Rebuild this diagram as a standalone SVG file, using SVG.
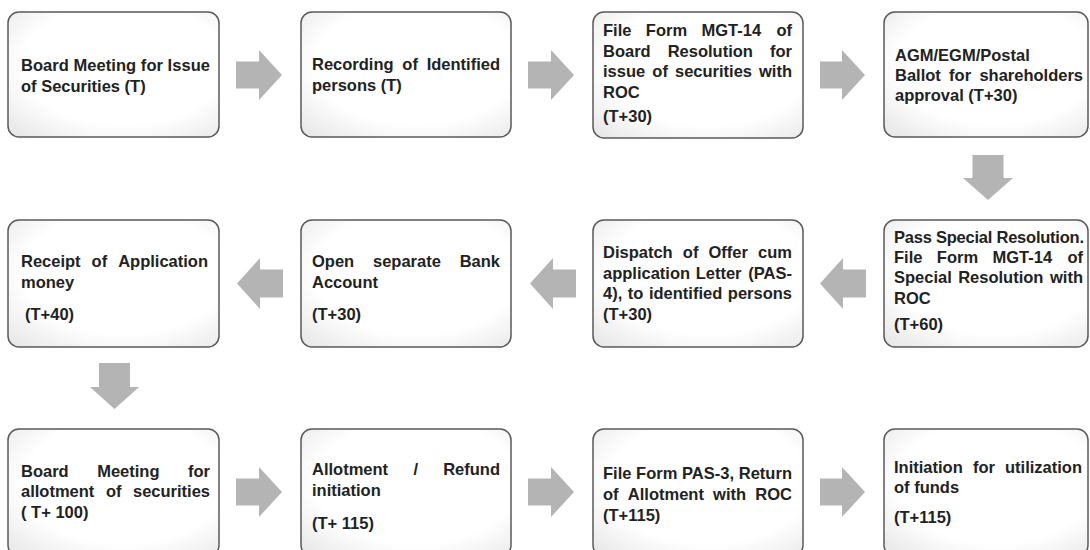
<svg xmlns="http://www.w3.org/2000/svg" width="1090" height="550" viewBox="0 0 1090 550">
<defs>
<radialGradient id="bg" cx="0.55" cy="0.42" r="0.78">
<stop offset="0.62" stop-color="#ffffff"/>
<stop offset="1" stop-color="#e6e6e6"/>
</radialGradient>
</defs>
<style>
.box{fill:url(#bg);stroke:#5a5a5a;stroke-width:1.5}
text{font-family:"Liberation Sans",Arial,sans-serif;font-weight:700;font-size:16.5px;fill:#222}
.r{text-anchor:end}
.arr{fill:#b4b4b4}
</style>
<rect width="1090" height="550" fill="#ffffff"/>
<g id="connectors">
<path class="arr" d="M236,61.5H259V50L282,75L259,100V88.5H236Z"/>
<path class="arr" d="M528,61.5H551V50L574,75L551,100V88.5H528Z"/>
<path class="arr" d="M820,61.5H842V50L865,75L842,100V88.5H820Z"/>
<path class="arr" d="M972.5,155H1003.5V178H1013L988,200L963,178H972.5Z"/>
<path class="arr" d="M866,269.5H843V258L820,283.5L843,309V297.5H866Z"/>
<path class="arr" d="M576,269.5H553V258L530,283.5L553,309V297.5H576Z"/>
<path class="arr" d="M283,269.5H260V258L237,283.5L260,309V297.5H283Z"/>
<path class="arr" d="M99,363H130V387H139L114.5,409L90,387H99Z"/>
<path class="arr" d="M236,478.5H259V467L282,492L259,517V505.5H236Z"/>
<path class="arr" d="M528,478.5H551V467L574,492L551,517V505.5H528Z"/>
<path class="arr" d="M820,478.5H842V467L865,492L842,517V505.5H820Z"/>
</g>
<g id="n1">
<rect class="box" x="8" y="12" width="211" height="125" rx="11"/>
<text x="21" y="71" textLength="189" lengthAdjust="spacing">Board Meeting for Issue</text>
<text x="21" y="92">of Securities (T)</text>
</g>
<g id="n2">
<rect class="box" x="301" y="12" width="210" height="125" rx="11"/>
<text y="70"><tspan x="312">Recording</tspan><tspan x="402.3">of</tspan></text>
<text class="r" x="500" y="70">Identified</text>
<text x="312" y="91">persons (T)</text>
</g>
<g id="n3">
<rect class="box" x="593" y="12" width="210" height="126" rx="11"/>
<text y="36"><tspan x="603">File</tspan><tspan x="645.8">Form</tspan><tspan x="701.5">MGT-14</tspan></text>
<text class="r" x="792" y="36">of</text>
<text y="57"><tspan x="603">Board</tspan><tspan x="667.7">Resolution</tspan></text>
<text class="r" x="792" y="57">for</text>
<text y="77"><tspan x="603">issue</tspan><tspan x="652.3">of</tspan><tspan x="675">securities</tspan></text>
<text class="r" x="792" y="77">with</text>
<text x="603" y="98">ROC</text>
<text x="603" y="122">(T+30)</text>
</g>
<g id="n4">
<rect class="box" x="884" y="12" width="204" height="125" rx="11"/>
<text x="895" y="61">AGM/EGM/Postal</text>
<text y="81"><tspan x="895">Ballot</tspan><tspan x="949.1">for</tspan></text>
<text class="r" x="1083" y="81">shareholders</text>
<text x="895" y="101">approval (T+30)</text>
</g>
<g id="n5">
<rect class="box" x="884" y="220" width="204" height="127" rx="11"/>
<text x="894" y="243" textLength="190" lengthAdjust="spacing">Pass Special Resolution.</text>
<text y="263"><tspan x="894">File</tspan><tspan x="936.8">Form</tspan><tspan x="992.5">MGT-14</tspan></text>
<text class="r" x="1083" y="263">of</text>
<text y="283"><tspan x="894">Special</tspan><tspan x="958.2">Resolution</tspan></text>
<text class="r" x="1083" y="283">with</text>
<text x="894" y="304">ROC</text>
<text x="894" y="330">(T+60)</text>
</g>
<g id="n6">
<rect class="box" x="593" y="220" width="210" height="127" rx="11"/>
<text y="258"><tspan x="603">Dispatch</tspan><tspan x="682.8">of</tspan><tspan x="708.5">Offer</tspan></text>
<text class="r" x="792" y="258">cum</text>
<text y="279"><tspan x="603">application</tspan><tspan x="695.7">Letter</tspan></text>
<text class="r" x="792" y="279">(PAS-</text>
<text y="299"><tspan x="603">4),</tspan><tspan x="627.8">to</tspan><tspan x="648.9">identified</tspan></text>
<text class="r" x="792" y="299">persons</text>
<text x="603" y="320">(T+30)</text>
</g>
<g id="n7">
<rect class="box" x="301" y="220" width="210" height="127" rx="11"/>
<text y="267"><tspan x="312">Open</tspan><tspan x="373">separate</tspan></text>
<text class="r" x="500" y="267">Bank</text>
<text x="312" y="288">Account</text>
<text x="312" y="320">(T+30)</text>
</g>
<g id="n8">
<rect class="box" x="8" y="220" width="211" height="127" rx="11"/>
<text y="267"><tspan x="21">Receipt</tspan><tspan x="91.6">of</tspan></text>
<text class="r" x="208" y="267">Application</text>
<text x="21" y="288">money</text>
<text x="25" y="320">(T+40)</text>
</g>
<g id="n9">
<rect class="box" x="8" y="429" width="211" height="127" rx="11"/>
<text y="477"><tspan x="21">Board</tspan><tspan x="97.2">Meeting</tspan></text>
<text class="r" x="210" y="477">for</text>
<text y="497"><tspan x="21">allotment</tspan><tspan x="105.9">of</tspan></text>
<text class="r" x="210" y="497">securities</text>
<text x="21" y="518">( T+ 100)</text>
</g>
<g id="n10">
<rect class="box" x="301" y="429" width="210" height="127" rx="11"/>
<text y="475"><tspan x="312">Allotment</tspan><tspan x="413.4">/</tspan></text>
<text class="r" x="500" y="475">Refund</text>
<text x="312" y="496">initiation</text>
<text x="312" y="529">(T+ 115)</text>
</g>
<g id="n11">
<rect class="box" x="593" y="429" width="210" height="127" rx="11"/>
<text x="603" y="479" textLength="189" lengthAdjust="spacing">File Form PAS-3, Return</text>
<text y="500"><tspan x="603">of</tspan><tspan x="627.8">Allotment</tspan><tspan x="713.1">with</tspan></text>
<text class="r" x="792" y="500">ROC</text>
<text x="603" y="521">(T+115)</text>
</g>
<g id="n12">
<rect class="box" x="884" y="429" width="204" height="127" rx="11"/>
<text y="473"><tspan x="894">Initiation</tspan><tspan x="972.9">for</tspan></text>
<text class="r" x="1082" y="473">utilization</text>
<text x="894" y="493">of funds</text>
<text x="894" y="523">(T+115)</text>
</g>
</svg>
